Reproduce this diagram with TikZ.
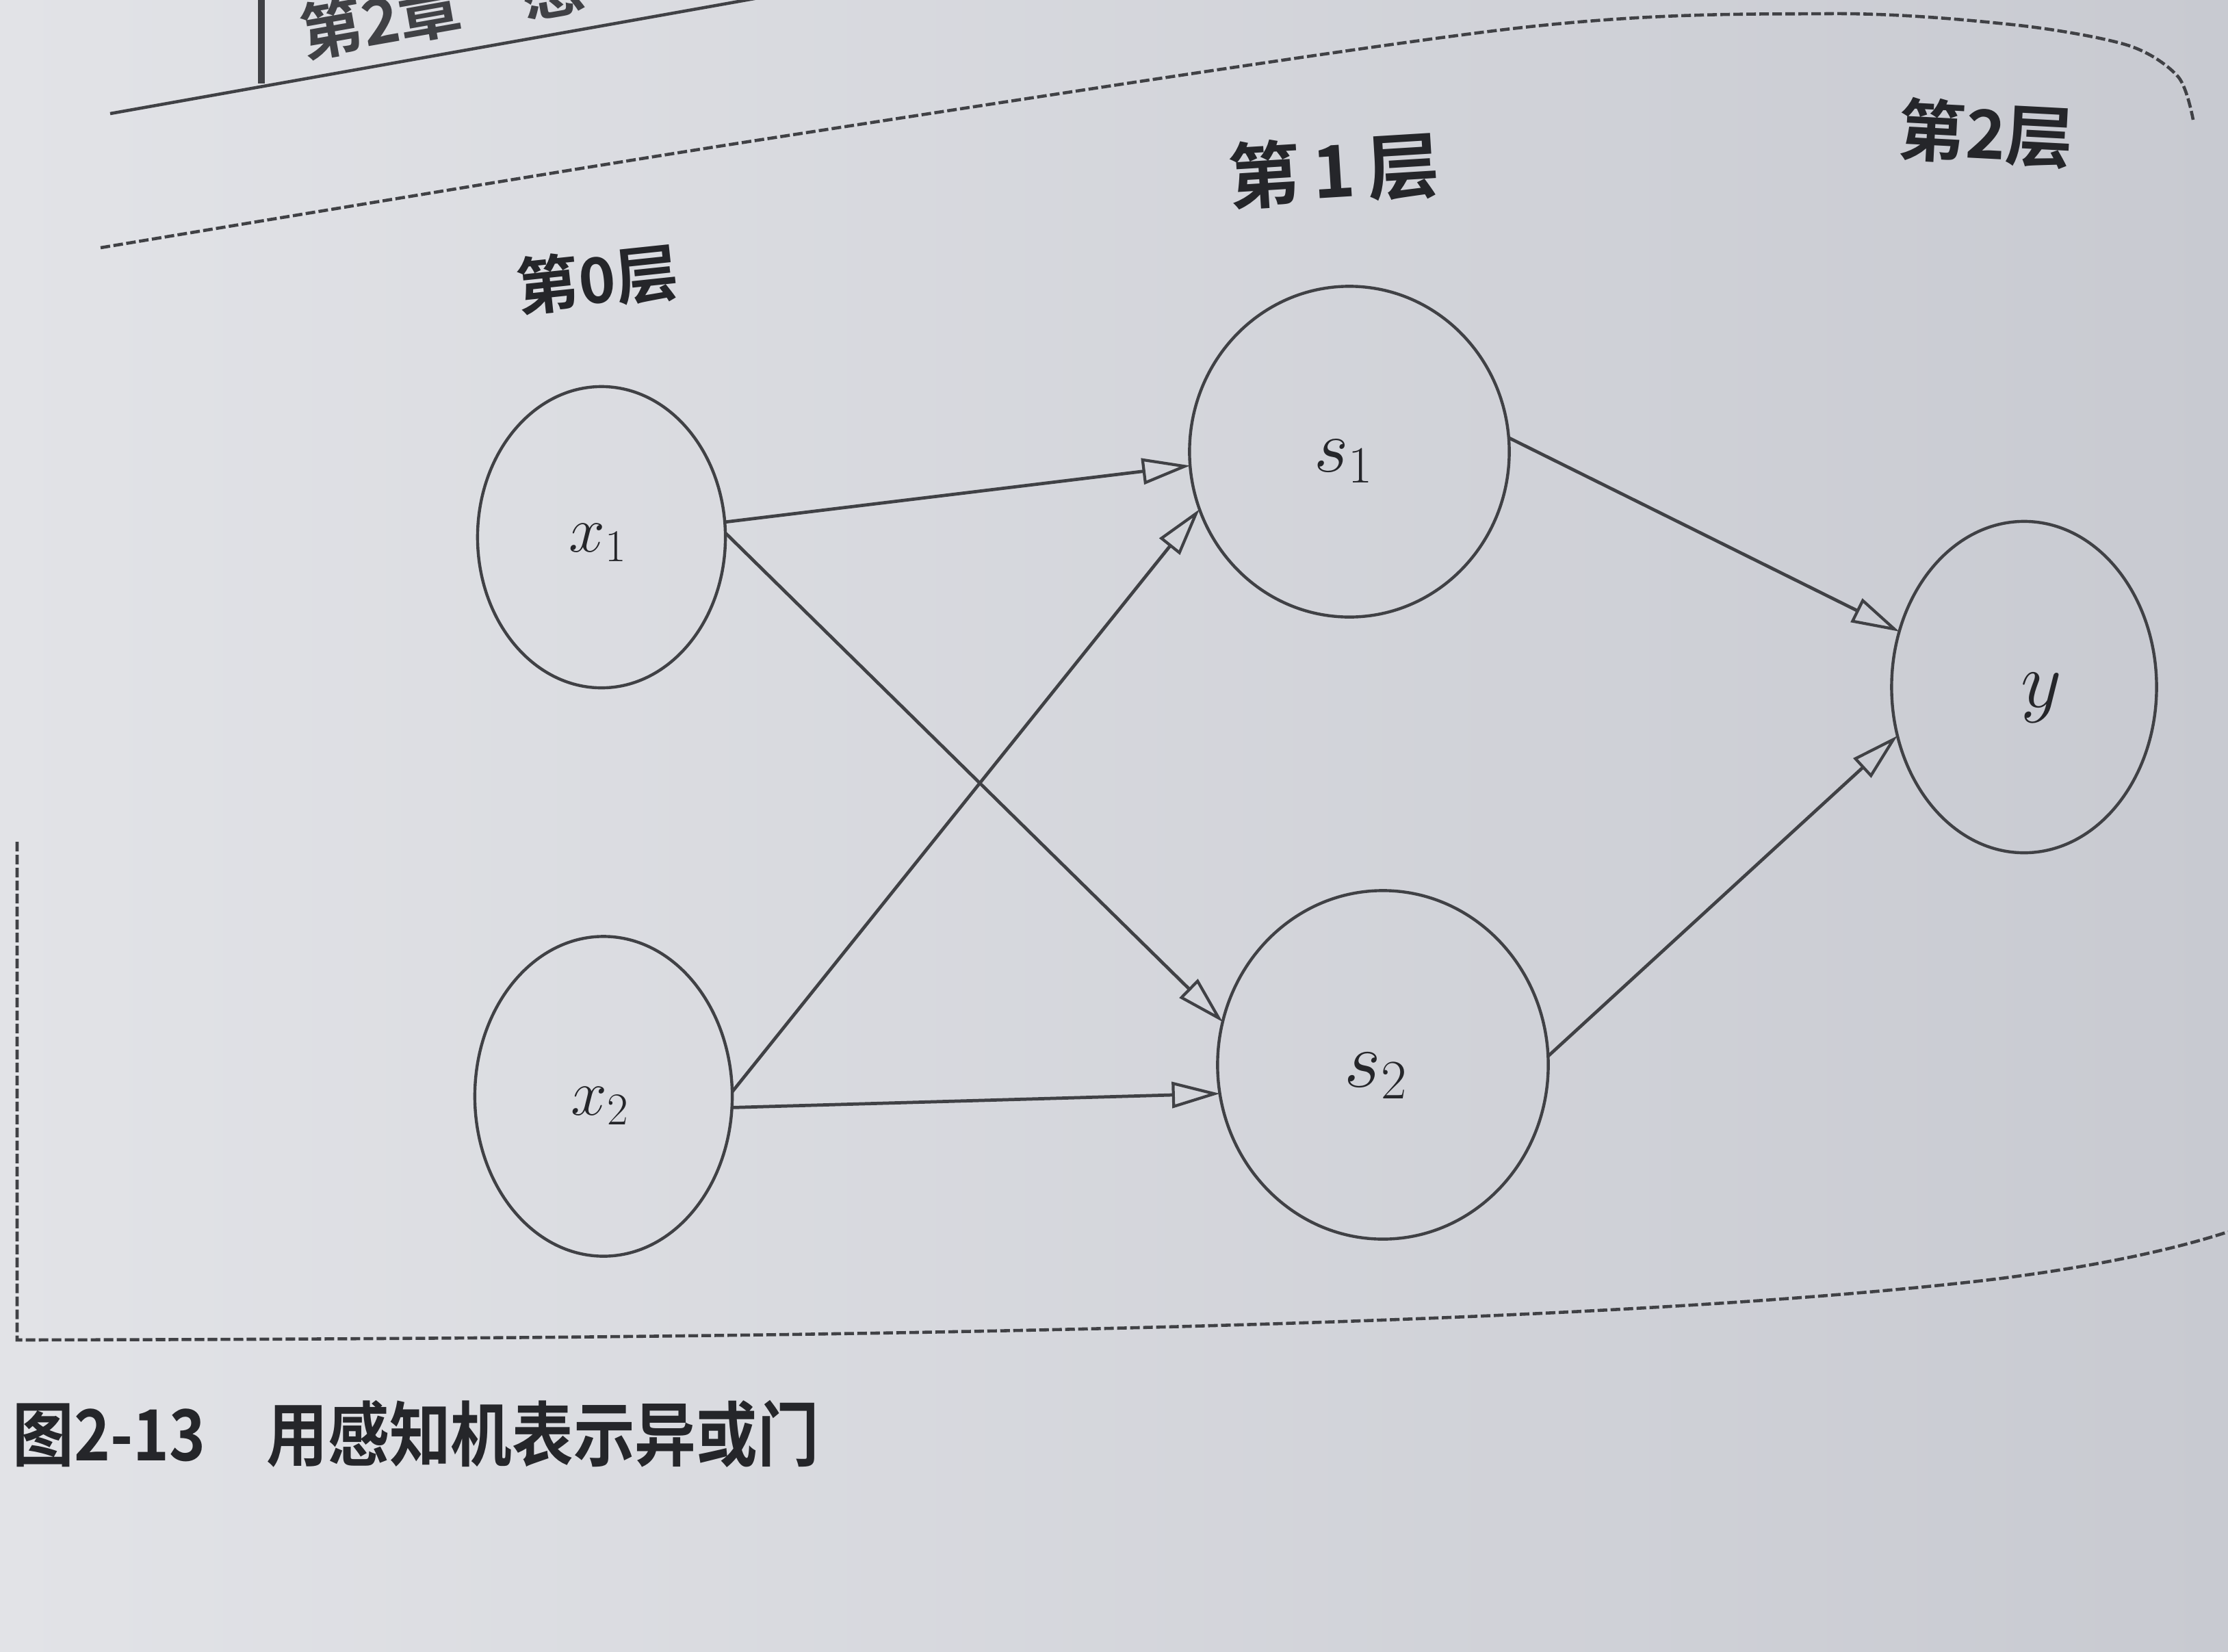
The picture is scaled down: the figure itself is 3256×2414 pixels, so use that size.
\RequirePackage{fix-cm}
\documentclass[tikz,border=0pt]{standalone}
\usepackage{fontspec}
\newfontfamily\cjk{Noto Sans CJK SC}[BoldFont={Noto Sans CJK SC Bold}]
\usetikzlibrary{arrows.meta,shapes.geometric}
\definecolor{paper}{HTML}{C8CAD1}
\definecolor{paperL}{HTML}{E2E3E7}
\definecolor{ink}{HTML}{404145}
\definecolor{inkT}{HTML}{25262A}
\tikzset{
  neuron/.style={ellipse, draw=ink, line width=1.25pt, inner sep=0pt, outer sep=0pt},
  mlbl/.style={text=inkT, font=\fontsize{#1}{#1}\selectfont, inner sep=0pt},
  conn/.style={draw=ink, line width=1.35pt, -{Triangle[open, length=0.70cm, width=0.38cm, line width=1.2pt]}},
  framebox/.style={draw=ink, line width=1.3pt, dash pattern=on 4pt off 1.4pt},
  lyr/.style={text=inkT, font=\cjk\bfseries\fontsize{#1}{#1}\selectfont, inner sep=0pt},
}
\begin{document}
\begin{tikzpicture}[x=0.01cm, y=-0.01cm]
\useasboundingbox (0,0) rectangle (3256,2414);
\clip (0,0) rectangle (3256,2414);
\shade[left color=paperL, right color=paper] (0,0) rectangle (3256,2414);

% running head
\draw[ink, line width=1.3pt] (161,166) -- (1220,-23);
\draw[ink, line width=2.8pt] (382,-5) -- (382,122);
\node[lyr=26, text=ink, anchor=base west, rotate=10] (hdr) at (445,84) {第2章\quad 感};

% frame
\draw[framebox] plot[smooth] coordinates {(147,362) (1100,206) (2200,43) (2671,20) (2941,36) (3109,66) (3183,112) (3205,175)};
\draw[framebox] (25,1230) -- (25,1958) .. controls (1200,1956) and (2300,1940) .. (2900,1871) .. controls (3060,1852) and (3180,1825) .. (3256,1800);

% neurons
\node[neuron, minimum width=3.62cm, minimum height=4.40cm,
      label={[mlbl=27, shift={(-5,8)}]center:$x_1$}] (x1) at (879,785) {};
\node[neuron, minimum width=3.76cm, minimum height=4.67cm,
      label={[mlbl=27, shift={(-5,14)}]center:$x_2$}] (x2) at (882,1602) {};
\node[neuron, minimum width=4.67cm, minimum height=4.83cm,
      label={[mlbl=31, shift={(-8,14)}]center:$s_1$}] (s1) at (1972,660) {};
\node[neuron, minimum width=4.83cm, minimum height=5.09cm,
      label={[mlbl=33, shift={(-10,16)}]center:$s_2$}] (s2) at (2021,1556) {};
\node[neuron, minimum width=3.87cm, minimum height=4.84cm,
      label={[mlbl=33, shift={(25,16)}]center:$y$}] (y) at (2958,1004) {};

% connections
\draw[conn] (x1.7) -- (s1.185);
\draw[conn] (x1.2) -- (s2.165);
\draw[conn] (x2.2) -- (s1.201);
\draw[conn] (x2.-5) -- (s2.190);
\draw[conn] (s1.5) -- (y.156);
\draw[conn] (s2.3) -- (y.201);

% layer titles
\node[lyr=26, rotate=6] (L0) at (873,408) {第0层};
\node[lyr=30, rotate=3.5] (L1) at (1949,249) {第\,1\,层};
\node[lyr=28, rotate=-3] (L2) at (2902,195) {第2层};

% caption
\node[lyr=25.5, anchor=west, yscale=1.15] (cap) at (18,2095) {图2-13\quad 用感知机表示异或门};
\end{tikzpicture}
\end{document}
